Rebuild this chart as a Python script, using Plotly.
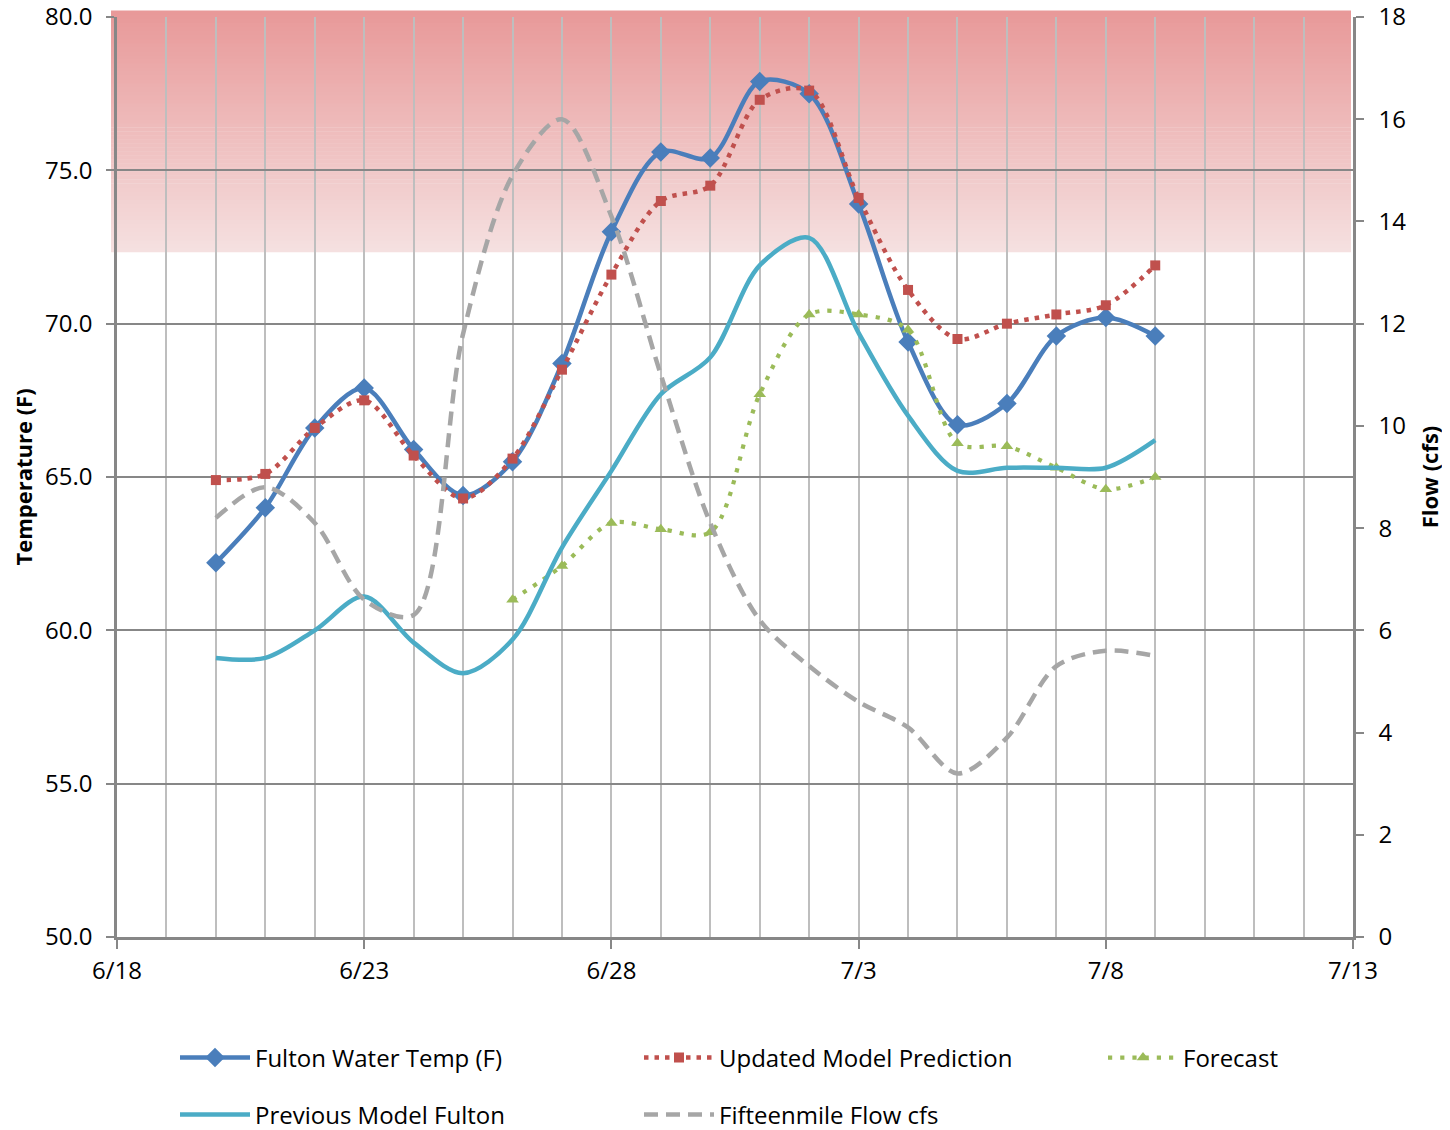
import plotly.graph_objects as go

dates = ["2013-06-20", "2013-06-21", "2013-06-22", "2013-06-23", "2013-06-24",
         "2013-06-25", "2013-06-26", "2013-06-27", "2013-06-28", "2013-06-29",
         "2013-06-30", "2013-07-01", "2013-07-02", "2013-07-03", "2013-07-04",
         "2013-07-05", "2013-07-06", "2013-07-07", "2013-07-08", "2013-07-09"]

fulton = [62.2, 64.0, 66.6, 67.9, 65.9, 64.4, 65.5, 68.7, 73.0, 75.6,
          75.4, 77.9, 77.5, 73.9, 69.4, 66.7, 67.4, 69.6, 70.2, 69.6]
updated = [64.9, 65.1, 66.6, 67.5, 65.7, 64.3, 65.6, 68.5, 71.6, 74.0,
           74.5, 77.3, 77.6, 74.1, 71.1, 69.5, 70.0, 70.3, 70.6, 71.9]
forecast_dates = dates[6:]
forecast = [61.0, 62.1, 63.5, 63.3, 63.2, 67.7, 70.3, 70.3, 69.8, 66.1,
            66.0, 65.3, 64.6, 65.0]
previous = [59.1, 59.1, 60.0, 61.1, 59.6, 58.6, 59.7, 62.7, 65.2, 67.7,
            68.9, 71.9, 72.8, 69.7, 67.0, 65.2, 65.3, 65.3, 65.3, 66.2]
flow = [8.2, 8.8, 8.1, 6.6, 6.3, 11.8, 14.9, 16.0, 14.1, 11.0,
        8.1, 6.2, 5.3, 4.6, 4.1, 3.2, 3.9, 5.3, 5.6, 5.5]

x_range = ["2013-06-18", "2013-07-13"]
band_low, band_high = 72.33, 80.0

FONT = "Open Sans"
TICK_SIZE = 24

fig = go.Figure()

fig.add_trace(go.Scatter(
    x=dates, y=fulton, name="Fulton Water Temp (F)", mode="lines+markers",
    line=dict(color="#4A7EBB", width=4.5, shape="spline", smoothing=0.9),
    marker=dict(symbol="diamond", size=15, color="#4A7EBB"),
    legend="legend"))
fig.add_trace(go.Scatter(
    x=dates, y=updated, name="Updated Model Prediction", mode="lines+markers",
    line=dict(color="#C0504D", width=4.5, dash="4.5px,6px", shape="spline", smoothing=0.9),
    marker=dict(symbol="square", size=10, color="#C0504D"),
    legend="legend2"))
fig.add_trace(go.Scatter(
    x=forecast_dates, y=forecast, name="Forecast", mode="lines+markers",
    line=dict(color="#9BBB59", width=4.2, dash="4.2px,8px", shape="spline", smoothing=0.9),
    marker=dict(symbol="triangle-up", size=11, color="#9BBB59"),
    legend="legend3"))
fig.add_trace(go.Scatter(
    x=dates, y=previous, name="Previous Model Fulton", mode="lines",
    line=dict(color="#4BACC6", width=4.5, shape="spline", smoothing=0.9),
    legend="legend4"))
fig.add_trace(go.Scatter(
    x=dates, y=flow, name="Fifteenmile Flow cfs", mode="lines", yaxis="y2",
    line=dict(color="#A6A6A6", width=4.5, dash="14px,8px", shape="spline", smoothing=0.9),
    legend="legend5"))

# gradient band (stacked strips)
n = 60
top_c = (232, 153, 153)
bot_c = (245, 224, 224)
y0p = (band_low - 50) / 30.0
y1p = 1 + 6 / 920.0
for i in range(n):
    t = i / (n - 1)
    c = tuple(int(round(bot_c[k] + (top_c[k] - bot_c[k]) * t)) for k in range(3))
    ya = y0p + (y1p - y0p) * i / n
    yb = y0p + (y1p - y0p) * (i + 1) / n + 0.0005
    fig.add_shape(type="rect", xref="paper", yref="paper",
                  x0=-6 / 1236.0, x1=1 - 2 / 1236.0, y0=ya, y1=yb,
                  fillcolor="rgb(%d,%d,%d)" % c, line=dict(width=0), layer="below")

axis_gray = "#878787"
grid_light = "#BEBEBE"


def leg(px_left, px_y):
    return dict(orientation="h", x=(px_left - 117) / 1236.0, xanchor="left",
                y=(937 - px_y) / 920.0, yanchor="middle", itemwidth=70,
                font=dict(size=TICK_SIZE, family=FONT), bgcolor="rgba(0,0,0,0)",
                borderwidth=0)


fig.update_layout(
    width=1442, height=1140,
    margin=dict(l=109, r=97, t=9, b=211, autoexpand=False),
    plot_bgcolor="rgba(0,0,0,0)", paper_bgcolor="white",
    font=dict(family=FONT, size=TICK_SIZE, color="#000000"),
    xaxis=dict(
        type="date", range=x_range, dtick=5 * 86400000, tick0="2013-06-18",
        tickformat="%-m/%-d", showgrid=True, gridcolor=grid_light, gridwidth=1.5,
        minor=dict(dtick=86400000, showgrid=True, gridcolor=grid_light, gridwidth=1.5, ticks=""),
        ticks="outside", ticklen=9, tickwidth=2, tickcolor=axis_gray,
        showline=True, linecolor=axis_gray, linewidth=2.5,
        ticklabelstandoff=1, zeroline=False, ticklabeloverflow="allow",
        tickfont=dict(size=TICK_SIZE, family=FONT)),
    yaxis=dict(
        range=[50, 80], dtick=5, tickformat=".1f",
        showgrid=True, gridcolor=axis_gray, gridwidth=2,
        ticks="outside", ticklen=8, tickwidth=2, tickcolor=axis_gray,
        showline=True, linecolor=axis_gray, linewidth=2.5, zeroline=False,
        ticklabelstandoff=9, ticklabeloverflow="allow",
        title=dict(text="<b>Temperature (F)</b>", font=dict(size=22, family=FONT), standoff=7),
        automargin=False, tickfont=dict(size=TICK_SIZE, family=FONT)),
    yaxis2=dict(
        range=[0, 18], dtick=2, overlaying="y", side="right", showgrid=False,
        ticks="outside", ticklen=8, tickwidth=2, tickcolor=axis_gray,
        showline=True, linecolor=axis_gray, linewidth=2.5, zeroline=False,
        ticklabelstandoff=10, ticklabeloverflow="allow",
        title=dict(text="<b>Flow (cfs)</b>", font=dict(size=22, family=FONT), standoff=18),
        automargin=False, tickfont=dict(size=TICK_SIZE, family=FONT)),
    legend=leg(175, 1058),
    legend2=leg(639, 1058),
    legend3=leg(1103, 1058),
    legend4=leg(175, 1115),
    legend5=leg(639, 1115),
    showlegend=True,
)

fig.write_html("out.html")
